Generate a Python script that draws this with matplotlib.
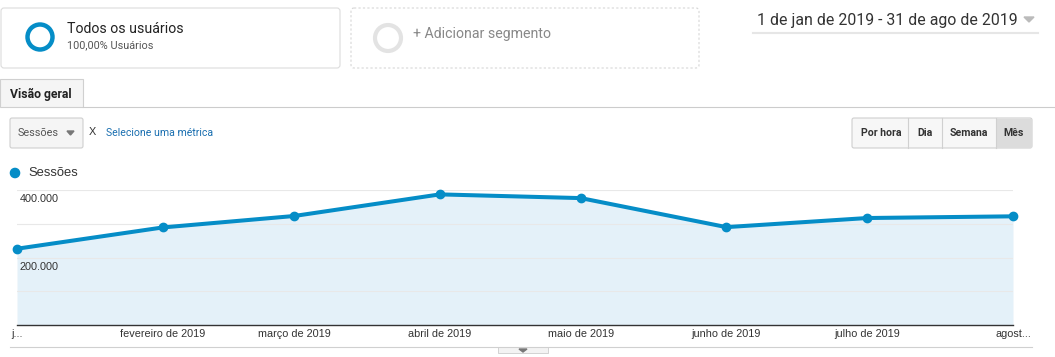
import datetime as dt
import matplotlib
matplotlib.use("Agg")
import matplotlib.pyplot as plt
from matplotlib.patches import Circle, FancyBboxPatch, Rectangle, Polygon

# -------------------------------
# Dados
# -------------------------------
meses = [dt.date(2019, m, 1) for m in range(1, 9)]
rotulos = ["j...", "fevereiro de 2019", "março de 2019", "abril de 2019",
           "maio de 2019", "junho de 2019", "julho de 2019", "agost..."]
sessoes = [226000, 289000, 323000, 387000, 376000, 290000, 317000, 322000]
y_ticks = [200000, 400000]
y_rotulos = ["200.000", "400.000"]

AZUL = "#058dc7"
W, H = 1055, 357

plt.rcParams['font.family'] = ['Liberation Sans', 'DejaVu Sans']

fig = plt.figure(figsize=(W / 100, H / 100), dpi=100)

# fundo em coordenadas de pixel (y para baixo)
bg = fig.add_axes([0, 0, 1, 1])
bg.set_xlim(0, W)
bg.set_ylim(H, 0)
bg.axis("off")

# --- Segmentos ---
bg.add_patch(FancyBboxPatch((1, 8), 339, 60, boxstyle="round,pad=0,rounding_size=3",
                            fc="white", ec="#dcdcdc", lw=0.8))
bg.add_patch(Circle((40, 37), 12.5, fill=False, ec=AZUL, lw=3.2))
bg.text(67, 29, "Todos os usuários", fontsize=10.2, color="#222222",
        family=["Roboto", "DejaVu Sans"], va="center")
bg.text(67, 45, "100,00% Usuários", fontsize=7.8, color="#555555",
        family=["Roboto", "DejaVu Sans"], va="center")

bg.add_patch(FancyBboxPatch((351, 8), 348, 60, boxstyle="round,pad=0,rounding_size=3",
                            fc="white", ec="#d6d6d6", lw=0.8, ls=(0, (2, 2))))
bg.add_patch(Circle((388, 38), 13, fill=False, ec="#e3e3e3", lw=3))
bg.text(413, 34, "+ Adicionar segmento", fontsize=10.2, color="#888888",
        family=["Roboto", "DejaVu Sans"], va="center")

# --- Período ---
bg.text(757, 20, "1 de jan de 2019 - 31 de ago de 2019", fontsize=11.4, color="#333333",
        family=["Roboto", "DejaVu Sans"], va="center")
bg.add_patch(Polygon([[1024, 17], [1034, 17], [1029, 22]], color="#bbbbbb"))
bg.plot([753, 1038], [33, 33], color="#e6e6e6", lw=1.5)

# --- Aba ---
bg.add_patch(Rectangle((0, 79), 83, 28, fc="#f5f5f5", ec="#d0d0d0", lw=0.8))
bg.plot([83, W], [107, 107], color="#cccccc", lw=0.8)
bg.text(10, 94, "Visão geral", fontsize=8.8, fontweight="bold", color="#222222",
        family=["Roboto", "DejaVu Sans"], va="center")

# --- Seletor de métrica ---
bg.add_patch(FancyBboxPatch((10, 118), 73, 30, boxstyle="round,pad=0,rounding_size=2",
                            fc="#f5f5f5", ec="#cfcfcf", lw=0.8))
bg.text(18, 133, "Sessões", fontsize=7.8, color="#555555",
        family=["Roboto", "DejaVu Sans"], va="center")
bg.add_patch(Polygon([[67, 131], [74, 131], [70.5, 135]], color="#777777"))
bg.text(89, 132, "X", fontsize=7.8, color="#333333", va="center")
bg.text(106, 133, "Selecione uma métrica", fontsize=7.6, color="#1a6fb0",
        family=["Roboto", "DejaVu Sans"], va="center")

# --- Botões de período ---
bg.add_patch(FancyBboxPatch((852, 118), 180, 30, boxstyle="round,pad=0,rounding_size=2",
                            fc="#f7f7f7", ec="#cfcfcf", lw=0.8))
bg.add_patch(Rectangle((996, 118.5), 35.5, 29, fc="#dcdcdc", ec="none"))
for xd in [908, 942, 996]:
    bg.plot([xd, xd], [118, 148], color="#d0d0d0", lw=0.8)
for txt, xc in [("Por hora", 881), ("Dia", 925), ("Semana", 969), ("Mês", 1014)]:
    bg.text(xc, 133, txt, fontsize=7.6, fontweight="bold", color="#333333",
            family=["Roboto", "DejaVu Sans"], ha="center", va="center")

# --- Legenda ---
bg.add_patch(Circle((15, 173), 4.6, color=AZUL))
bg.text(28, 173, "Sessões", fontsize=9.4, color="#333333", va="center")

# --- Rodapé ---
bg.plot([10, 1032], [347, 347], color="#d0d0d0", lw=0.8)
bg.add_patch(Rectangle((498, 347), 50, 6, fc="#f3f3f3", ec="#cccccc", lw=0.6))
bg.add_patch(Polygon([[519, 349], [527, 349], [523, 352]], color="#777777"))

# -------------------------------
# Gráfico
# -------------------------------
x0, x1, ytop, ybot = 17, 1013, 190, 325
ax = fig.add_axes([x0 / W, 1 - ybot / H, (x1 - x0) / W, (ybot - ytop) / H])
ax.set_facecolor("none")

ax.fill_between(meses, sessoes, 0, color="#e4f1f9", lw=0)
for v in [100000, 200000, 300000, 400000]:
    ax.axhline(v, color="#e8e8e8", lw=0.8, zorder=1)
ax.plot(meses, sessoes, color=AZUL, lw=2.9, marker="o", markersize=6,
        clip_on=False, zorder=3)

ax.set_xlim(meses[0], meses[-1])
ax.set_ylim(0, 400000)
ax.set_yticks([])
ax.set_xticks(meses)
ax.set_xticklabels(rotulos, fontsize=7.8, color="#333333")
ax.tick_params(axis="x", length=0, pad=3)
for s in ["top", "left", "right"]:
    ax.spines[s].set_visible(False)
ax.spines["bottom"].set_color("#333333")
ax.spines["bottom"].set_linewidth(1)

for v, r in zip(y_ticks, y_rotulos):
    ax.annotate(r, xy=(0, v), xycoords=("axes fraction", "data"),
                xytext=(2, -3), textcoords="offset points",
                ha="left", va="top", fontsize=7.8, color="#333333")

fig.savefig("out.png", dpi=100)
